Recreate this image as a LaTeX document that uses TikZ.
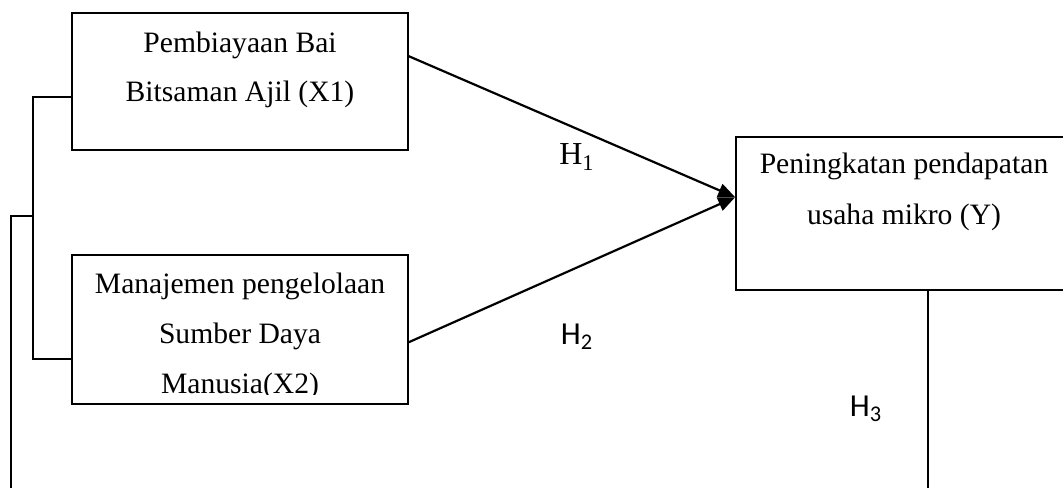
\documentclass[tikz,border=0pt]{standalone}
\usepackage{fontspec}
\setmainfont{Liberation Serif}
\newfontfamily\hfont{Carlito}
\usetikzlibrary{arrows.meta,fit,calc}
\tikzset{
  box/.style={draw, line width=0.8pt, inner sep=0pt, rectangle},
  txt/.style={inner sep=0pt, anchor=base, font=\fontsize{14.8}{17}\selectfont},
  hyp/.style={inner sep=0pt, font=\hfont\fontsize{16}{19}\selectfont},
  link/.style={line width=0.8pt},
  path1/.style={line width=1.1pt, -{Triangle[length=8.5pt,width=7pt]}},
}
\begin{document}
\begin{tikzpicture}[x=0.5pt,y=-0.5pt]
\useasboundingbox (0,0) rectangle (1063,487);
\clip (0,0) rectangle (1063,487);

% variable boxes
\node[box, fit={(72,13) (408,150)}] (x1) {};
\node[box, fit={(72,255) (408,404)}] (x2) {};
\node[box, fit={(736,137) (1080,290)}] (y) {};

% box labels
\node[txt] (x1a) at (240,52) {Pembiayaan Bai};
\node[txt] (x1b) at (240,101) {Bitsaman Ajil (X1)};
\node[txt] (x2a) at (240,293) {Manajemen pengelolaan};
\node[txt] (x2b) at (240,343) {Sumber Daya};
\begin{scope}
  \clip (72,256) rectangle (408,394);
  \node[txt] (x2c) at (240,393) {Manusia(X2)};
\end{scope}
\node[txt] (ya) at (904,173) {Peningkatan pendapatan};
\node[txt] (yb) at (904,224) {usaha mikro (Y)};

% hypothesis paths
\coordinate (tip) at ([yshift=-30.5pt]y.north west);
\draw[path1] ([yshift=-22pt]x1.north east) -- (tip);
\draw[path1] ([yshift=-44pt]x2.north east) -- (tip);

% bracket joining X1 and X2
\coordinate (bj) at (34,216);
\coordinate (bend) at (11,490);
\draw[link] ([yshift=-42.5pt]x1.north west) -- ++(-38,0) |- ([yshift=-52.5pt]x2.north west);
\draw[link] (bj) -- (11,216) -- (bend);

% line down from Y
\coordinate (yend) at (928,490);
\draw[link] (y.south west -| yend) -- (yend);

% hypothesis labels
\node[hyp, font=\fontsize{16}{19}\selectfont] (h1) at (577,157) {H\textsubscript{1}};
\node[hyp] (h2) at (577,337) {H\textsubscript{2}};
\node[hyp] (h3) at (866,409) {H\textsubscript{3}};
\end{tikzpicture}
\end{document}
